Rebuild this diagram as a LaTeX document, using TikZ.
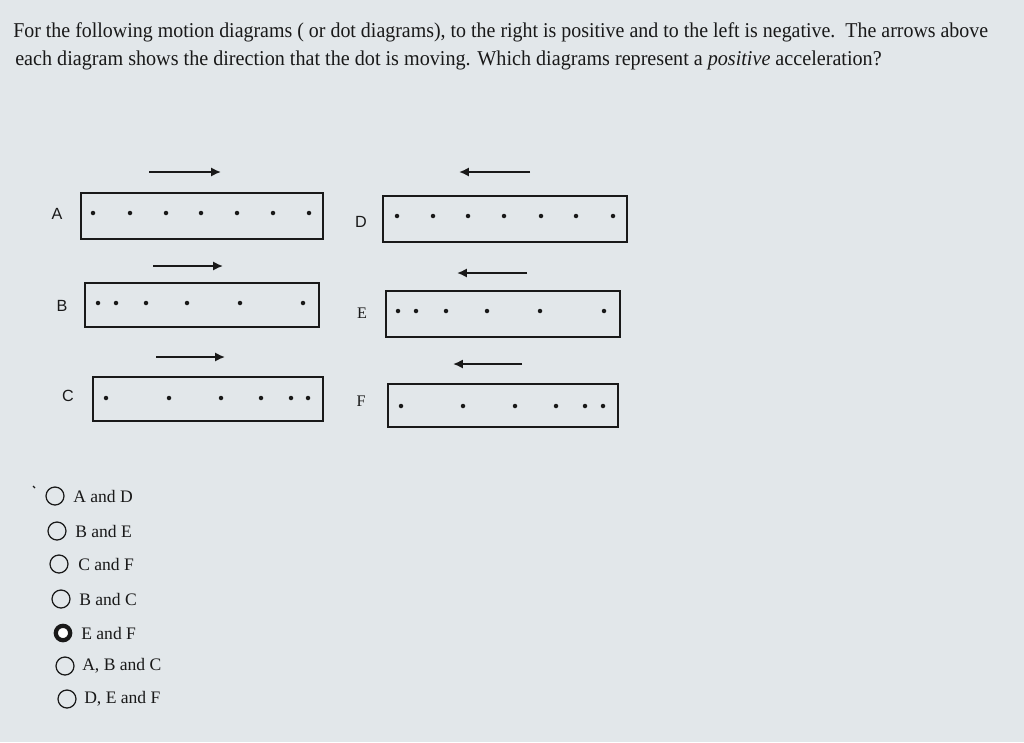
\documentclass[tikz,border=0pt]{standalone}
\usepackage{fontspec}
\setmainfont{Liberation Serif}
\newfontfamily\labelfont{Liberation Sans}
\usetikzlibrary{arrows.meta, positioning}
\definecolor{screengray}{RGB}{226, 231, 234}
\definecolor{inkblack}{RGB}{25, 25, 25}
\tikzset{
    % Motion diagram frames
    dot box/.style={
        rectangle, draw=inkblack, line width=1.4pt, inner sep=0pt
    },
    % Positions of the moving dot
    motion dot/.style={
        circle, fill=inkblack, inner sep=0pt, minimum size=3.2pt
    },
    % Direction arrows
    dir arrow/.style={
        -{Latex[length=7pt, width=6.5pt]}, line width=1.3pt, color=inkblack
    },
    % Letters beside the frames
    box label/.style={
        font=\labelfont\fontsize{11.5}{13}\selectfont, text=inkblack
    },
    % Answer choices
    radio/.style={
        circle, draw=inkblack, line width=0.9pt, minimum size=0.45cm, inner sep=0pt
    },
    choice/.style={
        anchor=west, font=\fontsize{12.5}{14}\selectfont, text=inkblack, inner sep=0pt
    },
    question/.style={
        anchor=base west, font=\fontsize{15}{18}\selectfont, text=inkblack, inner sep=0pt
    }
}

\begin{document}
\begin{tikzpicture}[x=0.025cm, y=-0.025cm]

    % Background
    \fill[screengray] (0, 0) rectangle (1024, 742);
    \useasboundingbox (0, 0) rectangle (1024, 742);

    % Question text
    \node[question] (q1) at (13, 38) {\scalebox{0.945}[1]{For the following motion diagrams ( or dot diagrams), to the right is positive and to the left is negative.\ \ The arrows above}};
    \node[question] (q2) at (15, 66) {\scalebox{0.955}[1]{each diagram shows the direction that the dot is moving. Which diagrams represent a \textit{positive} acceleration?}};

    % ======== LEFT COLUMN ========
    % A: constant speed to the right
    \node[dot box, minimum width=6.05cm, minimum height=1.15cm] (boxA) at (202, 216) {};
    \node[box label] (labA) at (57, 214) {A};
    \coordinate (a0) at (149, 172);
    \coordinate (a1) at (221, 172);
    \draw[dir arrow] (a0) -- (a1);
    \foreach \x [count=\i] in {93, 130, 166, 201, 237, 273, 309}
        \node[motion dot] (dA\i) at (\x, 213) {};

    % B: speeding up to the right
    \node[dot box, minimum width=5.85cm, minimum height=1.1cm] (boxB) at (202, 305) {};
    \node[box label] (labB) at (62, 306) {B};
    \coordinate (b0) at (153, 266);
    \coordinate (b1) at (223, 266);
    \draw[dir arrow] (b0) -- (b1);
    \foreach \x [count=\i] in {98, 116, 146, 187, 240, 303}
        \node[motion dot] (dB\i) at (\x, 303) {};

    % C: slowing down to the right
    \node[dot box, minimum width=5.75cm, minimum height=1.1cm] (boxC) at (208, 399) {};
    \node[box label] (labC) at (68, 396) {C};
    \coordinate (c0) at (156, 357);
    \coordinate (c1) at (225, 357);
    \draw[dir arrow] (c0) -- (c1);
    \foreach \x [count=\i] in {106, 169, 221, 261, 291, 308}
        \node[motion dot] (dC\i) at (\x, 398) {};

    % ======== RIGHT COLUMN ========
    % D: constant speed to the left
    \node[dot box, minimum width=6.1cm, minimum height=1.15cm] (boxD) at (505, 219) {};
    \node[box label] (labD) at (361, 222) {D};
    \coordinate (d0) at (530, 172);
    \coordinate (d1) at (459, 172);
    \draw[dir arrow] (d0) -- (d1);
    \foreach \x [count=\i] in {397, 433, 468, 504, 541, 576, 613}
        \node[motion dot] (dD\i) at (\x, 216) {};

    % E: slowing down to the left
    \node[dot box, minimum width=5.85cm, minimum height=1.15cm] (boxE) at (503, 314) {};
    \node[box label, font=\fontsize{11.5}{13}\selectfont] (labE) at (362, 313) {E};
    \coordinate (e0) at (527, 273);
    \coordinate (e1) at (457, 273);
    \draw[dir arrow] (e0) -- (e1);
    \foreach \x [count=\i] in {398, 416, 446, 487, 540, 604}
        \node[motion dot] (dE\i) at (\x, 311) {};

    % F: speeding up to the left
    \node[dot box, minimum width=5.75cm, minimum height=1.075cm] (boxF) at (503, 405.5) {};
    \node[box label, font=\fontsize{11.5}{13}\selectfont] (labF) at (361, 401) {F};
    \coordinate (f0) at (522, 364);
    \coordinate (f1) at (453, 364);
    \draw[dir arrow] (f0) -- (f1);
    \foreach \x [count=\i] in {401, 463, 515, 556, 585, 603}
        \node[motion dot] (dF\i) at (\x, 406) {};

    % ======== ANSWER CHOICES ========
    \coordinate (t0) at (33, 486);
    \coordinate (t1) at (35, 488);
    \draw[inkblack, line width=0.8pt] (t0) -- (t1);

    \node[radio] (r1) at (55, 496) {};
    \node[choice] (o1) at (73, 496) {A and D};
    \node[radio] (r2) at (57, 531) {};
    \node[choice] (o2) at (75, 531) {B and E};
    \node[radio] (r3) at (59, 564) {};
    \node[choice] (o3) at (78, 564) {C and F};
    \node[radio] (r4) at (61, 599) {};
    \node[choice] (o4) at (79, 599) {B and C};
    \node[radio, line width=3pt, minimum size=0.36cm, fill=white] (r5) at (63, 633) {};
    \node[choice] (o5) at (81, 633) {E and F};
    \node[radio] (r6) at (65, 666) {};
    \node[choice] (o6) at (82, 666) {A, B and C};
    \node[radio] (r7) at (67, 699) {};
    \node[choice] (o7) at (84, 699) {D, E and F};

\end{tikzpicture}
\end{document}
